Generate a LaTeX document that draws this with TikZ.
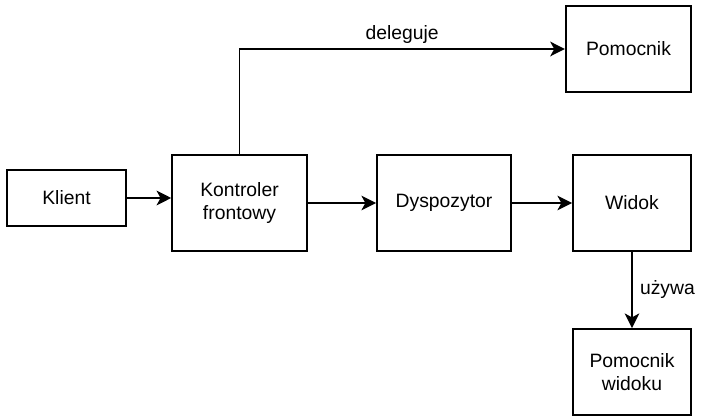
\documentclass[tikz,border=0pt]{standalone}
\usepackage{fontspec}
\setmainfont{Liberation Sans}
\usetikzlibrary{arrows.meta}
\tikzset{
  box/.style={draw, rectangle, line width=1.4pt, align=center,
    font=\fontsize{14.5pt}{17.5pt}\selectfont},
  arr/.style={line width=1.4pt, -{Stealth[length=11pt,width=11pt,inset=3pt]}},
  lbl/.style={font=\fontsize{14.5pt}{17.5pt}\selectfont}
}
\begin{document}
\begin{tikzpicture}[x=0.75pt,y=-0.75pt]
\useasboundingbox (0,0) rectangle (704,416);
\node[box, minimum width=89pt, minimum height=42pt] (1) at (66.5,198) {Klient};
\node[box, minimum width=101pt, minimum height=72pt] (2) at (239.5,203) {Kontroler\\frontowy};
\node[box, minimum width=100.5pt, minimum height=72pt] (3) at (444,203) {Dyspozytor};
\node[box, minimum width=88.5pt, minimum height=72pt] (4) at (632,203) {Widok};
\node[box, minimum width=94pt, minimum height=64.5pt] (5) at (628.5,49) {Pomocnik};
\node[box, minimum width=88.5pt, minimum height=64.5pt] (6) at (632,372) {Pomocnik\\widoku};
\path[draw,arr] (1.east) -- (1.east -| 2.west);
\path[draw,arr] (2) -- (3);
\path[draw,arr] (3) -- (4);
\path[draw,arr] (4) -- node[lbl, right, xshift=2pt] {używa} (6);
\path[draw,arr] (2.north) |- node[lbl, pos=0.75, above] {deleguje} (5.west);
\end{tikzpicture}
\end{document}
